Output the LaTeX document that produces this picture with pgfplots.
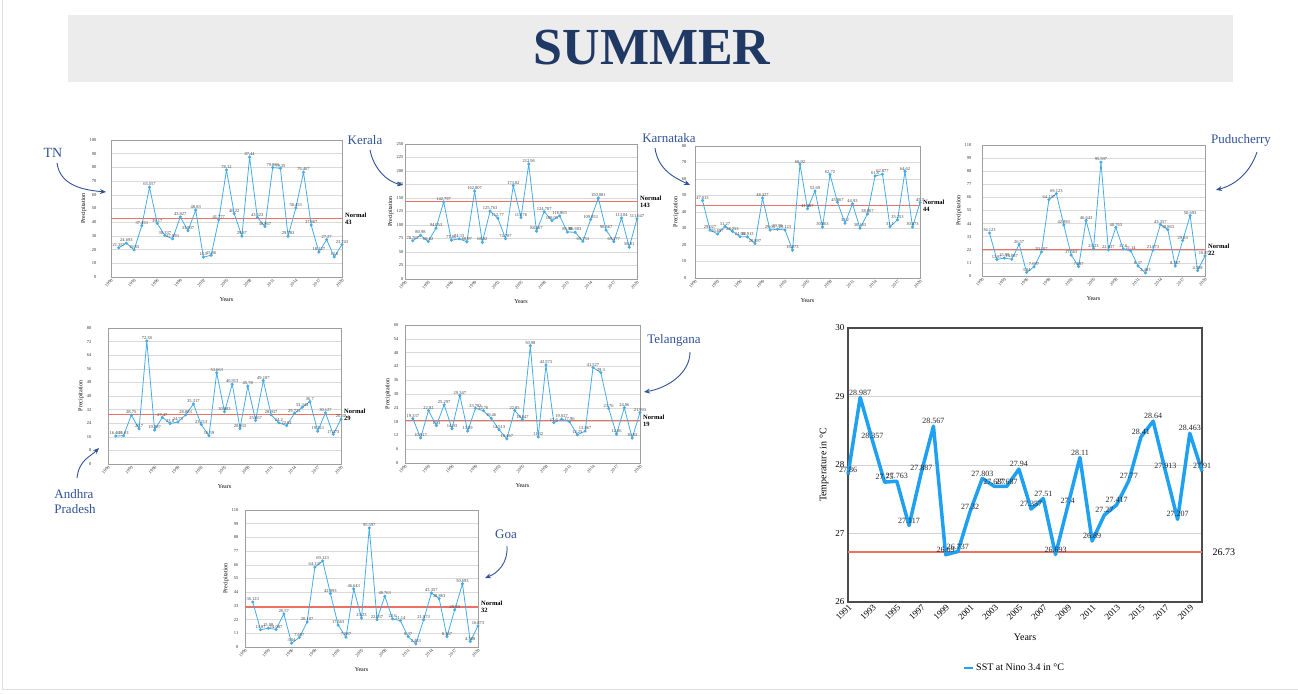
\documentclass[border=0pt]{standalone}
\usepackage{pgfplots}
\pgfplotsset{compat=1.18}
\usepackage{pgfplotstable}
\usepackage{fontspec}
\setmainfont{Liberation Serif}
\usetikzlibrary{arrows.meta}
\definecolor{sblue}{RGB}{70,172,232}
\definecolor{sstblue}{RGB}{32,160,240}
\definecolor{nred}{RGB}{236,112,100}
\definecolor{navy}{RGB}{31,56,100}
\definecolor{lblue}{RGB}{48,82,150}

\pgfplotstableread{
year tn kl ka pd ap tg
1991 21.357 70.767 47.013 36.123 16.463 19.337
1992 24.693 80.98 29.027 13.87 16.63 10.917
1993 19.83 69.62 26.697 15.08 28.75 22.82
1994 37.453 94.053 31.27 14.087 20.7 16.3
1995 65.557 142.797 28.253 26.57 72.38 25.297
1996 39.17 71.86 24.98 3.04 19.987 14.93
1997 30.337 74.33 24.913 7.697 27.47 29.347
1998 27.893 68.97 20.897 20.107 23.8 13.89
1999 43.827 162.807 48.427 64.137 24.73 23.783
2000 33.807 68.02 29.03 69.123 28.883 22.76
2001 48.83 125.763 29.59 42.893 35.317 19.46
2002 14.5 112.77 29.123 17.563 23.213 14.513
2003 15.86 74.707 16.873 7.887 16.59 10.467
2004 41.777 173.02 68.92 46.643 53.663 22.85
2005 78.12 113.76 41.987 23.23 30.683 18.847
2006 46.22 212.96 52.69 95.597 46.913 50.98
2007 29.87 88.667 30.863 22.037 20.933 11.32
2008 87.44 124.707 62.72 40.763 45.78 42.573
2009 43.523 108.05 45.867 22.6 25.667 17.6
2010 36.867 116.863 33.2 21.14 49.107 19.027
2011 79.883 86.98 44.93 8.37 28.937 17.96
2012 79.35 86.603 30.183 2.483 24.2 12.25
2013 29.783 69.753 38.867 21.873 22.62 13.867
2014 50.453 109.853 61.8 43.357 29.723 41.527
2015 76.467 150.081 62.877 38.863 33.343 39.3
2016 37.867 90.667 31.1 8.367 36.7 23.76
2017 18.127 69.277 35.253 29.83 19.323 12.56
2018 27.27 113.04 64.62 50.693 30.127 24.06
2019 14.6 58.81 30.873 4.508 17.473 10.83
2020 23.743 111.647 45.7 16.873 26.37 21.993
}\precip

\pgfplotstableread{
year sst
1991 27.86
1992 28.987
1993 28.357
1994 27.75
1995 27.763
1996 27.117
1997 27.887
1998 28.567
1999 26.69
2000 26.737
2001 27.32
2002 27.803
2003 27.687
2004 27.687
2005 27.94
2006 27.357
2007 27.51
2008 26.693
2009 27.4
2010 28.11
2011 26.89
2012 27.27
2013 27.417
2014 27.77
2015 28.41
2016 28.64
2017 27.913
2018 27.207
2019 28.463
2020 27.91
}\ssttab

\pgfplotsset{
  /pgf/number format/assume math mode=true,
  /pgf/number format/1000 sep={},
  ygap/.style={},
  smallplot/.style={
    scale only axis, anchor=south west, clip=false,
    xmin=1990, xmax=2020, xtick={1990,1993,...,2020},
    axis line style={draw=gray!75, line width=0.9pt},
    tick style={draw=none},
    ymajorgrids, grid style={gray!30, line width=0.5pt},
    ticklabel style={font=\fontsize{4.5}{5}\selectfont, text=black!80},
    x tick label style={rotate=45, anchor=north east, inner sep=1pt},
    y tick label style={inner sep=1.5pt},
    xlabel={Years}, ylabel={Precipitation},
    label style={font=\fontsize{6}{7}\selectfont},
    xlabel style={yshift=-5pt}, ylabel style={yshift=-2pt},
  },
}

\newcommand{\smallplot}[9]{%
\begin{axis}[smallplot, ygap, at={(#1pt,#2pt)}, width=#3pt, height=#4pt,
  ymin=0, ymax=#5, ytick={0,#6,...,#5}]
\addplot[nred, line width=1.3pt, forget plot] coordinates {(1990,#8) (2020,#8)};
\addplot[sblue, line width=0.8pt, mark=*, mark size=1.1pt,
  nodes near coords={\pgfmathprintnumber[precision=3]{\pgfplotspointmeta}},
  every node near coord/.append style={font=\fontsize{4.5}{5}\selectfont, text=black!75, inner sep=0.8pt}]
  table[x=year, y=#7] {\precip};
\node[anchor=west, font=\fontsize{6.5}{7}\selectfont\bfseries, align=left, inner sep=1pt, xshift=2pt]
  at (axis cs:2020,#8) {Normal\\#9};
\end{axis}}

\newcommand{\setgap}[1]{\pgfplotsset{ygap/.style={y tick label style={xshift=-#1pt}}}}

\begin{document}
\begin{tikzpicture}
\path[use as bounding box] (0pt,0pt) rectangle (1298pt,695pt);
\fill[white] (0pt,0pt) rectangle (1298pt,695pt);
\draw[gray!25, line width=1pt] (2pt,695pt) -- (2pt,5pt) -- (1298pt,5pt);

% title
\fill[gray!15] (68pt,613pt) rectangle (1233pt,680pt);
\node[font=\fontsize{52}{60}\selectfont\bfseries, text=navy] at (652pt,647.5pt) {SUMMER};

\setgap{13}
\smallplot{111}{418}{231}{137}{100}{10}{tn}{42.5}{43}
\setgap{0}
\smallplot{405}{416}{232}{135}{250}{25}{kl}{143}{143}
\setgap{7}
\smallplot{695}{417}{225}{132}{80}{10}{ka}{44}{44}
\setgap{9}
\smallplot{982}{419}{223}{131}{110}{11}{pd}{22}{22}
\setgap{15}
\smallplot{108}{231}{233}{136}{80}{8}{ap}{29}{29}
\setgap{5}
\smallplot{405}{232}{235}{138}{60}{6}{tg}{18.5}{19}
\setgap{5}
\smallplot{245}{48}{233}{137}{110}{11}{pd}{32}{32}

% SST chart
\begin{axis}[scale only axis, anchor=south west, at={(848pt,93pt)},
  width=354pt, height=274pt, clip=false,
  xmin=1991, xmax=2020, xtick={1991,1993,...,2019},
  ymin=26, ymax=30, ytick={26,27,...,30},
  axis line style={draw=gray!60!black, line width=1.6pt},
  tick style={draw=none},
  ymajorgrids, grid style={gray!35, line width=0.8pt},
  ticklabel style={font=\fontsize{9}{10}\selectfont},
  x tick label style={rotate=45, anchor=north east, inner sep=1pt},
  xlabel={Years}, ylabel={Temperature in °C},
  label style={font=\fontsize{10}{12}\selectfont},
  xlabel style={yshift=-8pt},
  legend style={at={(0.47,-0.24)}, anchor=center, draw=none, fill=none,
    font=\fontsize{10}{12}\selectfont},
  legend image code/.code={\draw[#1, line width=2.5pt] (0pt,0pt) -- (9pt,0pt);},
]
\addplot[nred, line width=1.3pt, forget plot] coordinates {(1991,26.73) (2020,26.73)};
\addplot[sstblue, line width=3.5pt, line join=round,
  nodes near coords={\pgfmathprintnumber[precision=3]{\pgfplotspointmeta}},
  every node near coord/.append style={font=\fontsize{8}{9}\selectfont, text=black!85, inner sep=0.5pt, anchor=south}]
  table[x=year, y=sst] {\ssttab};
\addlegendentry{SST at Nino 3.4 in °C}
\node[anchor=west, font=\fontsize{10}{12}\selectfont, xshift=7pt] at (axis cs:2020,26.73) {26.73};
\end{axis}

% state annotations
\begin{scope}[lblue, line width=0.9pt, font=\fontsize{14}{16}\selectfont]
\node at (53pt,542pt) {TN};
\draw[-{Stealth[length=6pt,width=5pt]}] (57pt,532pt) .. controls (60pt,510pt) and (82pt,505pt) .. (106pt,503pt);
\node[font=\fontsize{13}{15}\selectfont] at (365pt,555pt) {Kerala};
\draw[-{Stealth[length=6pt,width=5pt]}] (370pt,545pt) .. controls (374pt,525pt) and (388pt,513pt) .. (403pt,510pt);
\node[font=\fontsize{13}{15}\selectfont] at (669pt,557pt) {Karnataka};
\draw[-{Stealth[length=6pt,width=5pt]}] (655pt,547pt) .. controls (658pt,525pt) and (675pt,517pt) .. (690pt,510pt);
\node[font=\fontsize{13}{15}\selectfont] at (1241pt,555pt) {Puducherry};
\draw[-{Stealth[length=6pt,width=5pt]}] (1257pt,543pt) .. controls (1250pt,522pt) and (1235pt,510pt) .. (1216pt,505pt);
\node[font=\fontsize{13}{15}\selectfont, align=left] at (75pt,193pt) {Andhra\\Pradesh};
\draw[-{Stealth[length=6pt,width=5pt]}] (77pt,217pt) .. controls (79pt,235pt) and (90pt,238pt) .. (99pt,247pt);
\node[font=\fontsize{13}{15}\selectfont] at (674pt,355pt) {Telangana};
\draw[-{Stealth[length=6pt,width=5pt]}] (690pt,343pt) .. controls (690pt,322pt) and (668pt,307pt) .. (644pt,303pt);
\node[font=\fontsize{13}{15}\selectfont] at (506pt,161pt) {Goa};
\draw[-{Stealth[length=6pt,width=5pt]}] (507pt,149pt) .. controls (508pt,132pt) and (498pt,122pt) .. (485pt,117pt);
\end{scope}
\end{tikzpicture}
\end{document}
